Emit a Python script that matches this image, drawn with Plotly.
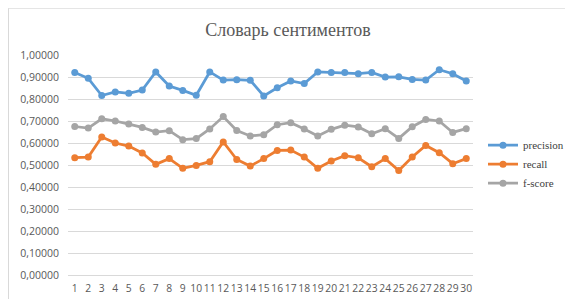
import plotly.graph_objects as go

categories = list(range(1, 31))
precision = [0.920, 0.894, 0.816, 0.832, 0.826, 0.841, 0.923, 0.859, 0.839, 0.817,
             0.923, 0.886, 0.888, 0.885, 0.814, 0.851, 0.882, 0.870, 0.923, 0.920,
             0.920, 0.915, 0.921, 0.900, 0.901, 0.889, 0.886, 0.933, 0.915, 0.882]
recall = [0.533, 0.536, 0.627, 0.600, 0.586, 0.555, 0.503, 0.529, 0.485, 0.498,
          0.515, 0.605, 0.525, 0.495, 0.529, 0.566, 0.568, 0.536, 0.485, 0.518,
          0.542, 0.533, 0.492, 0.529, 0.475, 0.536, 0.589, 0.556, 0.506, 0.529]
fscore = [0.675, 0.668, 0.710, 0.700, 0.686, 0.671, 0.650, 0.656, 0.615, 0.620,
          0.664, 0.720, 0.657, 0.632, 0.638, 0.683, 0.692, 0.664, 0.632, 0.662,
          0.681, 0.673, 0.642, 0.665, 0.621, 0.674, 0.707, 0.700, 0.648, 0.665]
series_names = ["precision", "recall", "f-score"]
colors = ["#5B9BD5", "#ED7D31", "#A5A5A5"]

fig = go.Figure()
for name, vals, c in zip(series_names, [precision, recall, fscore], colors):
    fig.add_trace(go.Scatter(
        x=categories, y=vals, name=name, mode="lines+markers",
        line=dict(color=c, width=2.75),
        marker=dict(color=c, size=7, symbol="circle"),
    ))

L, R, T, B = 60, 108, 47, 32
W, H = 573, 299
pw, ph = W - L - R, H - T - B

fig.update_layout(
    width=W, height=H,
    margin=dict(l=L, r=R, t=T, b=B),
    paper_bgcolor="white", plot_bgcolor="white",
    separators=", ",
    title=dict(text="Словарь сентиментов", x=(280 - L) / pw, xref="paper", xanchor="center",
               y=1 - 22 / H, yanchor="middle",
               font=dict(family="Liberation Serif", size=18, color="#595959")),
    xaxis=dict(range=[0.5, 30.5], tickmode="array", tickvals=categories,
               ticktext=[str(c) for c in categories], showgrid=False,
               showline=True, linecolor="#D9D9D9", linewidth=1, ticks="",
               tickangle=0, automargin=False, ticklabelstandoff=4,
               tickfont=dict(family="Open Sans", size=10.3, color="#595959"),
               zeroline=False, fixedrange=True),
    yaxis=dict(range=[0, 1], dtick=0.1, tickformat=".5f", showgrid=True,
               gridcolor="#D9D9D9", gridwidth=1, zeroline=False, ticks="",
               tickfont=dict(family="Open Sans", size=10.5, color="#595959"),
               ticklabelstandoff=8, fixedrange=True),
    legend=dict(x=(475 - L) / pw, y=(267.3 - 123) / ph, xanchor="left", yanchor="top",
                font=dict(family="Liberation Serif, Times New Roman, serif", size=11, color="#404040"),
                bgcolor="rgba(0,0,0,0)", itemwidth=30, tracegroupgap=0),
    showlegend=True,
    shapes=[dict(type="rect", xref="paper", yref="paper",
                 x0=(0.5 - L) / pw, x1=(W - 0.5 - L) / pw,
                 y0=(267.3 - (H - 0.5)) / ph, y1=(267.3 - 0.5) / ph,
                 line=dict(color="#D9D9D9", width=1), layer="below")],
)

fig.write_html("out.html")
